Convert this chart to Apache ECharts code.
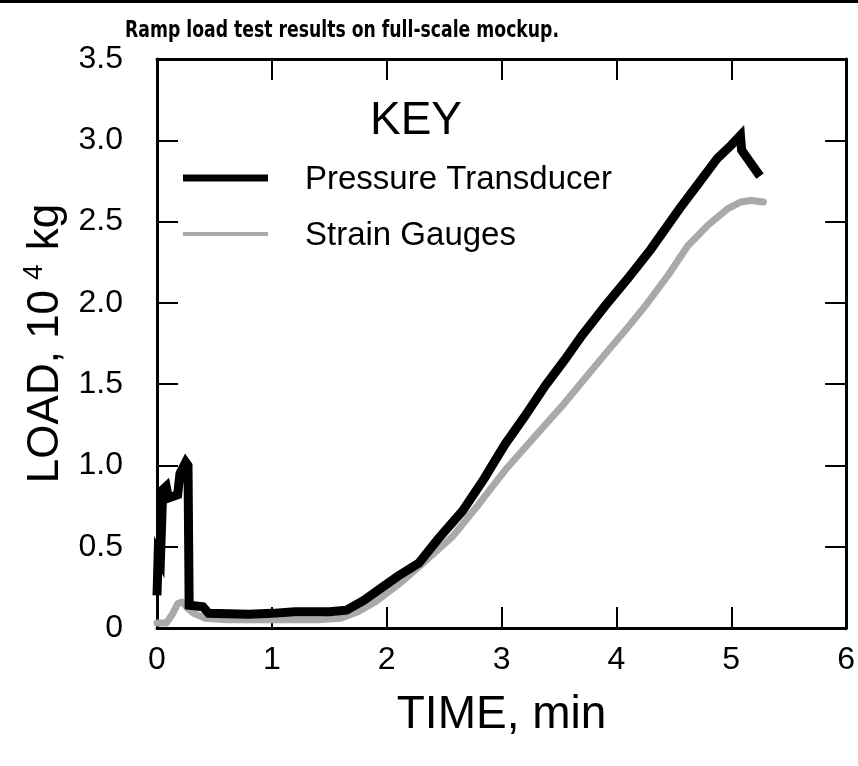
<!DOCTYPE html>
<html>
<head>
<meta charset="utf-8">
<script src="https://cdn.jsdelivr.net/npm/echarts@6/dist/echarts.min.js"></script>
<style>
html,body{margin:0;padding:0;background:#fff;}
#chart{width:858px;height:766px;}
</style>
</head>
<body>
<div id="chart"></div>
<script>
// ---- data ----
var titleText = 'Ramp load test results on full-scale mockup.';
var seriesNames = ['Pressure Transducer', 'Strain Gauges'];
var xTicks = [0, 1, 2, 3, 4, 5, 6];
var yTickLabels = ['0', '0.5', '1.0', '1.5', '2.0', '2.5', '3.0', '3.5'];

// Pressure Transducer: time (min), load (10^4 kg)
var timePressure = [0, 0.01, 0.03, 0.05, 0.08, 0.1, 0.18, 0.2, 0.25, 0.27, 0.28, 0.4, 0.45, 0.8, 1.0, 1.2, 1.5, 1.65, 1.8, 1.94, 2.1, 2.28, 2.45, 2.66, 2.85, 3.03, 3.2, 3.38, 3.55, 3.7, 3.9, 4.1, 4.3, 4.55, 4.7, 4.88, 5.0, 5.08, 5.09, 5.25];
var loadPressure = [0.2, 0.45, 0.42, 0.85, 0.87, 0.8, 0.82, 0.95, 1.02, 1.0, 0.14, 0.13, 0.09, 0.085, 0.09, 0.1, 0.1, 0.11, 0.17, 0.24, 0.32, 0.4, 0.55, 0.72, 0.92, 1.13, 1.3, 1.49, 1.65, 1.8, 1.98, 2.15, 2.33, 2.58, 2.72, 2.89, 2.97, 3.03, 2.94, 2.78];

// Strain Gauges
var timeStrain = [0, 0.08, 0.13, 0.18, 0.22, 0.27, 0.32, 0.42, 0.6, 1.0, 1.4, 1.6, 1.75, 1.9, 2.14, 2.35, 2.57, 2.8, 3.03, 3.28, 3.52, 3.72, 3.92, 4.1, 4.25, 4.45, 4.62, 4.8, 4.97, 5.08, 5.17, 5.28];
var loadStrain = [0.03, 0.03, 0.08, 0.15, 0.16, 0.12, 0.09, 0.06, 0.05, 0.05, 0.05, 0.06, 0.1, 0.16, 0.29, 0.42, 0.56, 0.76, 0.97, 1.17, 1.36, 1.53, 1.7, 1.85, 1.98, 2.17, 2.35, 2.48, 2.58, 2.62, 2.63, 2.62];

function zip(a, b) { return a.map(function (v, i) { return [v, b[i]]; }); }

var FONT = "'Liberation Sans', Arial, Helvetica, sans-serif";
var chart = echarts.init(document.getElementById('chart'), null, {renderer: 'canvas'});

var axisLine = {show: true, onZero: false, lineStyle: {color: '#000', width: 3}};
var axisTick = {show: true, inside: true, length: 21, lineStyle: {color: '#000', width: 2}};

chart.setOption({
  backgroundColor: '#fff',
  animation: false,
  grid: {left: 157, right: 8, top: 59, bottom: 138, containLabel: false},
  xAxis: [{
    type: 'value', min: 0, max: 6, interval: 1, position: 'bottom',
    axisLine: axisLine, axisTick: axisTick, splitLine: {show: false},
    axisLabel: {margin: 16, fontSize: 32, color: '#000', fontFamily: FONT,
      formatter: function (v) { return xTicks.indexOf(v) >= 0 ? String(v) : ''; }},
    name: 'TIME, min', nameLocation: 'middle', nameGap: 64,
    nameTextStyle: {fontSize: 46, color: '#000', fontFamily: FONT}
  }, {
    type: 'value', min: 0, max: 6, interval: 1, position: 'top',
    axisLine: axisLine, axisTick: axisTick, splitLine: {show: false},
    axisLabel: {show: false}
  }],
  yAxis: [{
    type: 'value', min: 0, max: 3.5, interval: 0.5, position: 'left',
    axisLine: axisLine, axisTick: axisTick, splitLine: {show: false},
    axisLabel: {margin: 34, fontSize: 32, color: '#000', fontFamily: FONT,
      formatter: function (v) { return yTickLabels[Math.round(v / 0.5)]; }},
    name: '{a|LOAD, 10}{s|4}{a|kg}', nameLocation: 'middle', nameGap: 84,
    nameTextStyle: {
      color: '#000', fontFamily: FONT, fontSize: 44,
      rich: {
        a: {fontSize: 44, color: '#000', fontFamily: FONT, lineHeight: 50},
        s: {fontSize: 28, color: '#000', fontFamily: FONT, verticalAlign: 'top', padding: [0, 14, 0, 10], lineHeight: 50}
      }
    }
  }, {
    type: 'value', min: 0, max: 3.5, interval: 0.5, position: 'right',
    axisLine: axisLine, axisTick: axisTick, splitLine: {show: false},
    axisLabel: {show: false}
  }],
  series: [{
    name: seriesNames[1], type: 'line', data: zip(timeStrain, loadStrain),
    xAxisIndex: 0, yAxisIndex: 0,
    showSymbol: false, symbol: 'none', smooth: false,
    lineStyle: {color: '#a9a9a9', width: 7, cap: 'round', join: 'round'},
    z: 2
  }, {
    name: seriesNames[0], type: 'line', data: zip(timePressure, loadPressure),
    xAxisIndex: 0, yAxisIndex: 0,
    showSymbol: false, symbol: 'none', smooth: false,
    lineStyle: {color: '#000', width: 9, cap: 'butt', join: 'miter'},
    z: 3
  }],
  graphic: [
    {type: 'rect', left: 0, top: 0, shape: {width: 858, height: 3}, style: {fill: '#000'}, z: 10},
    {type: 'text', x: 125, y: 20, scaleX: 0.75, style: {text: titleText, fontSize: 23, fontWeight: 'bold', fontFamily: "'DejaVu Sans', sans-serif", fill: '#000'}, z: 10},
    {type: 'text', left: 370, top: 98, style: {text: 'KEY', fontSize: 46, fontFamily: FONT, fill: '#000'}, z: 10},
    {type: 'line', shape: {x1: 183, y1: 178, x2: 268, y2: 178}, style: {stroke: '#000', lineWidth: 7}, z: 10},
    {type: 'text', left: 305, top: 163, style: {text: seriesNames[0], fontSize: 33, fontFamily: FONT, fill: '#000'}, z: 10},
    {type: 'line', shape: {x1: 183, y1: 234, x2: 268, y2: 234}, style: {stroke: '#a9a9a9', lineWidth: 4}, z: 10},
    {type: 'text', left: 305, top: 219, style: {text: seriesNames[1], fontSize: 33, fontFamily: FONT, fill: '#000'}, z: 10}
  ]
});
</script>
</body>
</html>
